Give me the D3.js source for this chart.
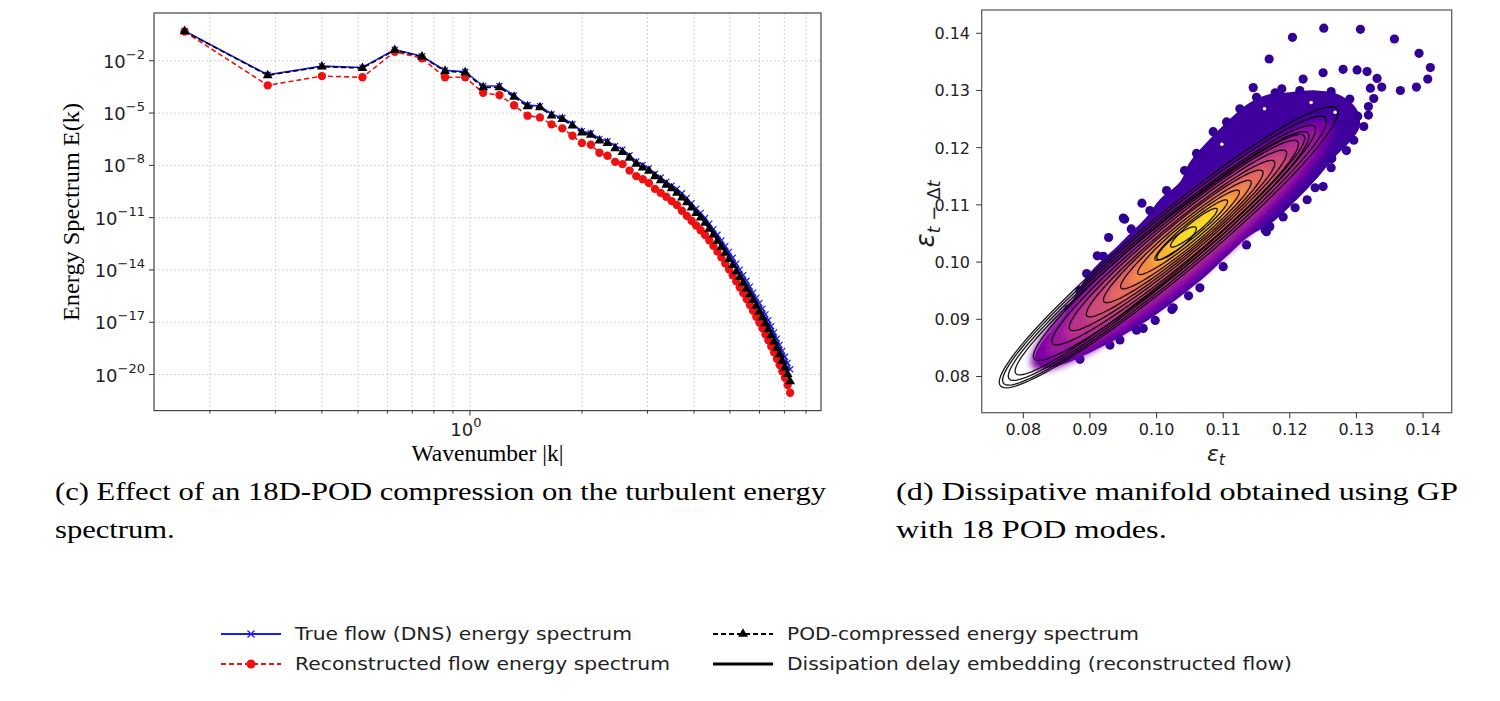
<!DOCTYPE html>
<html>
<head>
<meta charset="utf-8">
<script src="https://cdn.jsdelivr.net/npm/d3@7"></script>
<style>
  body { margin: 0; background: #fff; }
  svg { display: block; }
</style>
</head>
<body>
<svg id="fig" width="1500" height="701"></svg>
<script>
var svg = d3.select("#fig");

// ---------- (c) energy spectrum ----------
const waveK = [0.171, 0.286, 0.400, 0.514, 0.628, 0.743, 0.857, 0.971, 1.085, 1.200,
  1.314, 1.428, 1.542, 1.657, 1.771, 1.885, 1.999, 2.113, 2.228, 2.342,
  2.456, 2.570, 2.685, 2.799, 2.913, 3.027, 3.142, 3.256, 3.370, 3.484,
  3.599, 3.713, 3.827, 3.941, 4.055, 4.170, 4.284, 4.398, 4.512, 4.627,
  4.741, 4.855, 4.969, 5.084, 5.198, 5.312, 5.426, 5.540, 5.655, 5.769,
  5.883, 5.997, 6.112, 6.226, 6.340, 6.454, 6.568, 6.683, 6.797, 6.911,
  7.025, 7.140, 7.254];

// log10 E(k) for each series
const trueLogE = [-0.29, -2.80, -2.31, -2.39, -1.36, -1.74, -2.55, -2.63, -3.45, -3.45,
  -3.99, -4.54, -4.60, -5.07, -5.27, -5.63, -6.04, -6.15, -6.48, -6.62,
  -6.88, -7.10, -7.42, -7.77, -7.97, -8.17, -8.48, -8.70, -8.95, -9.16,
  -9.35, -9.60, -9.87, -10.17, -10.48, -10.73, -11.02, -11.34, -11.66, -11.98,
  -12.30, -12.63, -12.96, -13.30, -13.64, -13.98, -14.30, -14.62, -14.96, -15.30,
  -15.60, -15.90, -16.22, -16.55, -16.88, -17.22, -17.58, -17.94, -18.30, -18.64,
  -18.98, -19.33, -19.70];

const recLogE = [-0.33, -3.41, -2.88, -2.95, -1.48, -1.86, -2.95, -2.95, -3.84, -3.97,
  -4.55, -5.15, -5.25, -5.65, -5.88, -6.30, -6.72, -6.82, -7.28, -7.45,
  -7.80, -7.93, -8.30, -8.62, -8.80, -9.02, -9.35, -9.58, -9.80, -10.05,
  -10.28, -10.60, -10.90, -11.18, -11.45, -11.72, -12.00, -12.30, -12.62, -12.95,
  -13.28, -13.62, -13.96, -14.30, -14.65, -14.99, -15.33, -15.67, -16.01, -16.35,
  -16.69, -17.02, -17.35, -17.69, -18.03, -18.38, -18.73, -19.09, -19.45, -19.82,
  -20.19, -20.60, -21.05];

const podLogE = [-0.31, -2.84, -2.34, -2.42, -1.39, -1.77, -2.59, -2.67, -3.53, -3.53,
  -4.07, -4.62, -4.68, -5.15, -5.35, -5.72, -6.13, -6.25, -6.58, -6.73,
  -7.03, -7.25, -7.57, -7.92, -8.13, -8.32, -8.64, -8.86, -9.12, -9.33,
  -9.58, -9.85, -10.12, -10.43, -10.75, -11.00, -11.30, -11.64, -11.98, -12.33,
  -12.68, -13.03, -13.38, -13.73, -14.08, -14.42, -14.75, -15.08, -15.41, -15.74,
  -16.07, -16.40, -16.73, -17.07, -17.41, -17.76, -18.12, -18.48, -18.85, -19.22,
  -19.60, -19.98, -20.40];

const specTicksY = [1e-2, 1e-5, 1e-8, 1e-11, 1e-14, 1e-17, 1e-20];
const minorK = [0.2, 0.3, 0.4, 0.5, 0.6, 0.7, 0.8, 0.9, 2, 3, 4, 5, 6, 7, 8];

// ---------- (d) dissipation delay embedding ----------
const epsTicks = [0.08, 0.09, 0.10, 0.11, 0.12, 0.13, 0.14];

// outline of the dense cloud of points
const haloOutline = [[0.0818,0.0835],[0.0830,0.0862],[0.0855,0.0893],[0.0875,0.0935],[0.0895,0.0974],
  [0.0915,0.1000],[0.0935,0.1021],[0.0960,0.1050],[0.0985,0.1079],[0.1005,0.1110],[0.1035,0.1140],
  [0.1050,0.1175],[0.1080,0.1215],[0.1110,0.1250],[0.1135,0.1275],[0.1165,0.1292],[0.1200,0.1297],
  [0.1240,0.1300],[0.1275,0.1292],[0.1300,0.1268],[0.1305,0.1238],[0.1290,0.1210],[0.1266,0.1182],
  [0.1245,0.1152],[0.1218,0.1118],[0.1192,0.1088],[0.1170,0.1066],[0.1140,0.1046],[0.1107,0.1012],
  [0.1076,0.0978],[0.1038,0.0942],[0.0998,0.0907],[0.0950,0.0872],[0.0902,0.0843],[0.0858,0.0821],
  [0.0828,0.0816]];

// individual scatter points (outliers and the bumpy rim)
const scatterDots = [[0.1251,0.1409],[0.1306,0.1407],[0.1204,0.1393],[0.1357,0.1390],[0.1169,0.1355],
  [0.1394,0.1365],[0.1411,0.1340],[0.1407,0.1320],[0.1390,0.1306],[0.1366,0.1300],[0.1145,0.1305],
  [0.1188,0.1303],[0.1220,0.1320],[0.1250,0.1331],[0.1280,0.1337],[0.1301,0.1336],[0.1316,0.1333],
  [0.1331,0.1321],[0.1338,0.1306],[0.1321,0.1304],[0.1326,0.1286],[0.1318,0.1272],[0.1318,0.1257],
  [0.1311,0.1237],[0.1296,0.1213],[0.1263,0.1181],[0.1250,0.1132],[0.1226,0.1109],[0.1190,0.1079],
  [0.1163,0.1056],[0.1165,0.1053],[0.1048,0.0941],[0.1023,0.0917],[0.0998,0.0898],[0.0970,0.0881],
  [0.0945,0.0864],[0.0978,0.1103],[0.0952,0.1075],[0.0928,0.1043],[0.0911,0.1011],[0.0895,0.0980],
  [0.0950,0.1077],[0.0868,0.0918],[0.0885,0.0950],[0.0920,0.1010],[0.0962,0.1058],[0.0990,0.1090],
  [0.1015,0.1125],[0.1042,0.1160],[0.1060,0.1190],[0.1085,0.1228],[0.1105,0.1245],[0.1125,0.1268],
  [0.1150,0.1288],[0.1178,0.1296],[0.1215,0.1300],[0.1262,0.1298],[0.1290,0.1285],[0.1302,0.1255],
  [0.1285,0.1195],[0.1262,0.1165],[0.1238,0.1130],[0.1208,0.1095],[0.1170,0.1062],[0.1135,0.1030],
  [0.1100,0.0992],[0.1065,0.0955],[0.1025,0.0920],[0.0980,0.0884],[0.0930,0.0855],[0.0885,0.0830]];

// small white gaps inside the dense cloud
const cloudGaps = [[0.1162,0.1268],[0.1232,0.1279],[0.1098,0.1206],[0.1268,0.1262]];

// density colouring: [plasma level, centre x, centre y, half length, half width]
const densityLevels = [
  [0.26, 0.1038, 0.1030, 0.0310, 0.0058],
  [0.34, 0.1040, 0.1034, 0.0280, 0.0050],
  [0.43, 0.1042, 0.1038, 0.0245, 0.0042],
  [0.52, 0.1045, 0.1042, 0.0205, 0.0035],
  [0.62, 0.1048, 0.1046, 0.0165, 0.0028],
  [0.72, 0.1051, 0.1050, 0.0125, 0.0022],
  [0.83, 0.1054, 0.1054, 0.0085, 0.0016],
  [0.94, 0.1056, 0.1057, 0.0050, 0.0011]];

// KDE contour rings: [centre x, centre y, half length, half width]
const contourRings = [
  [0.1018, 0.1026, 0.0350, 0.0050],
  [0.1012, 0.1020, 0.0335, 0.0046],
  [0.1008, 0.1016, 0.0318, 0.0042],
  [0.1005, 0.1013, 0.0300, 0.0038],
  [0.1022, 0.1028, 0.0285, 0.0040],
  [0.1028, 0.1034, 0.0255, 0.0035],
  [0.1032, 0.1038, 0.0225, 0.0031],
  [0.1036, 0.1041, 0.0195, 0.0027],
  [0.1040, 0.1045, 0.0165, 0.0024],
  [0.1044, 0.1048, 0.0135, 0.0020],
  [0.1048, 0.1052, 0.0105, 0.0016],
  [0.1052, 0.1056, 0.0075, 0.0012],
  [0.1056, 0.1060, 0.0048, 0.0009],
  [0.1030, 0.1033, 0.0040, 0.0010]];

const ringAngle = 44;

// =====================================================================
// panel (c)
// =====================================================================
var x = d3.scaleLog().domain([0.1415, 8.78]).range([154, 821]);
var y = d3.scaleLog().domain([Math.pow(10, -22.07), Math.pow(10, 0.74)]).range([410.6, 13]);

var left = svg.append("g");

// grid
left.selectAll(".vgrid")
    .data(minorK.concat([1]))
    .enter().append("line")
    .attr("x1", d => x(d)).attr("x2", d => x(d))
    .attr("y1", 13).attr("y2", 410.6)
    .attr("stroke", "#c9c9c9").attr("stroke-width", 0.8).attr("stroke-dasharray", "2,2");

left.selectAll(".hgrid")
    .data(specTicksY)
    .enter().append("line")
    .attr("x1", 154).attr("x2", 821)
    .attr("y1", d => y(d)).attr("y2", d => y(d))
    .attr("stroke", "#c9c9c9").attr("stroke-width", 0.8).attr("stroke-dasharray", "2,2");

// y ticks
left.selectAll(".ytick")
    .data(specTicksY)
    .enter().append("line")
    .attr("x1", 149).attr("x2", 154)
    .attr("y1", d => y(d)).attr("y2", d => y(d))
    .attr("stroke", "#333").attr("stroke-width", 1);

var yLab = left.selectAll(".ylab")
    .data(specTicksY)
    .enter().append("text")
    .attr("x", 145)
    .attr("y", d => y(d) + 7)
    .attr("text-anchor", "end")
    .attr("font-family", "DejaVu Sans")
    .attr("font-size", "18px")
    .attr("fill", "#222");
yLab.append("tspan").text("10");
yLab.append("tspan").attr("dy", -9).attr("font-size", "13px")
    .text(d => "\u2212" + Math.abs(Math.round(Math.log10(d))));

// x ticks
left.selectAll(".xminor")
    .data(minorK)
    .enter().append("line")
    .attr("x1", d => x(d)).attr("x2", d => x(d))
    .attr("y1", 410.6).attr("y2", 413.6)
    .attr("stroke", "#333");
left.append("line")
    .attr("x1", x(1)).attr("x2", x(1))
    .attr("y1", 410.6).attr("y2", 415.6)
    .attr("stroke", "#333");
var xLab = left.append("text")
    .attr("x", x(1) - 4).attr("y", 436)
    .attr("text-anchor", "middle")
    .attr("font-family", "DejaVu Sans")
    .attr("font-size", "18px")
    .attr("fill", "#222");
xLab.append("tspan").text("10");
xLab.append("tspan").attr("dy", -9).attr("font-size", "13px").text("0");

// frame
left.append("rect")
    .attr("x", 154).attr("y", 13)
    .attr("width", 667).attr("height", 397.6)
    .attr("fill", "none").attr("stroke", "#444").attr("stroke-width", 1.2);

// axis titles
left.append("text")
    .attr("transform", "translate(79,212) rotate(-90)")
    .attr("text-anchor", "middle")
    .attr("font-family", "Liberation Serif")
    .attr("font-size", "23px")
    .attr("textLength", 218).attr("lengthAdjust", "spacingAndGlyphs")
    .text("Energy Spectrum E(k)");

left.append("text")
    .attr("x", 487.5).attr("y", 461)
    .attr("text-anchor", "middle")
    .attr("font-family", "Liberation Serif")
    .attr("font-size", "23px")
    .attr("textLength", 152).attr("lengthAdjust", "spacingAndGlyphs")
    .text("Wavenumber |k|");

// series
function series(logs) {
  return waveK.map((k, i) => ({ k: k, e: Math.pow(10, logs[i]) }));
}
var trueData = series(trueLogE);
var recData = series(recLogE);
var podData = series(podLogE);

var line = d3.line()
    .x(d => x(d.k))
    .y(d => y(d.e));

left.append("path").datum(trueData)
    .attr("d", line).attr("fill", "none")
    .attr("stroke", "#1a1aff").attr("stroke-width", 1.6);
left.selectAll(".tmark").data(trueData).enter().append("path")
    .attr("transform", d => "translate(" + x(d.k) + "," + y(d.e) + ")")
    .attr("d", "M-3,-3L3,3M-3,3L3,-3")
    .attr("stroke", "#1a1aff").attr("stroke-width", 1.2);

left.append("path").datum(recData)
    .attr("d", line).attr("fill", "none")
    .attr("stroke", "#ee1111").attr("stroke-width", 1.6).attr("stroke-dasharray", "5,3");
left.selectAll(".rmark").data(recData).enter().append("circle")
    .attr("cx", d => x(d.k)).attr("cy", d => y(d.e)).attr("r", 4.2)
    .attr("fill", "#ee1111");

left.append("path").datum(podData)
    .attr("d", line).attr("fill", "none")
    .attr("stroke", "#000").attr("stroke-width", 1.6).attr("stroke-dasharray", "5,3");
var tri = d3.symbol().type(d3.symbolTriangle).size(42);
left.selectAll(".pmark").data(podData).enter().append("path")
    .attr("transform", d => "translate(" + x(d.k) + "," + y(d.e) + ")")
    .attr("d", tri).attr("fill", "#000");

// =====================================================================
// panel (d)
// =====================================================================
var xr = d3.scaleLinear().domain([0.07375, 0.1443]).range([981.7, 1451.7]);
var yr = d3.scaleLinear().domain([0.07367, 0.14407]).range([412.7, 10]);

var defs = svg.append("defs");
defs.append("clipPath").attr("id", "clipD")
  .append("rect").attr("x", 981.7).attr("y", 10).attr("width", 470).attr("height", 402.7);
defs.append("filter").attr("id", "soft")
  .append("feGaussianBlur").attr("stdDeviation", 3.5);
defs.append("filter").attr("id", "soft1")
  .append("feGaussianBlur").attr("stdDeviation", 0.6);

var right = svg.append("g");
var plot = right.append("g").attr("clip-path", "url(#clipD)");

function ringPoints(cx, cy, a, b) {
  var th = ringAngle * Math.PI / 180, pts = [];
  for (var i = 0; i < 120; i++) {
    var t = i / 120 * 2 * Math.PI;
    pts.push([cx + a * Math.cos(t) * Math.cos(th) - b * Math.sin(t) * Math.sin(th),
              cy + a * Math.cos(t) * Math.sin(th) + b * Math.sin(t) * Math.cos(th)]);
  }
  return pts;
}
var ringLine = d3.line().x(d => xr(d[0])).y(d => yr(d[1])).curve(d3.curveLinearClosed);

// dense cloud
plot.append("path").datum(haloOutline)
    .attr("d", d3.line().x(d => xr(d[0])).y(d => yr(d[1])).curve(d3.curveCatmullRomClosed))
    .attr("fill", d3.interpolatePlasma(0.1))
    .attr("filter", "url(#soft1)");

plot.selectAll(".gap").data(cloudGaps).enter().append("circle")
    .attr("cx", d => xr(d[0])).attr("cy", d => yr(d[1])).attr("r", 1.8)
    .attr("fill", "#fff").attr("filter", "url(#soft1)");

plot.selectAll(".dot").data(scatterDots).enter().append("circle")
    .attr("cx", d => xr(d[0])).attr("cy", d => yr(d[1])).attr("r", 4.6)
    .attr("fill", d3.interpolatePlasma(0.07))
    .attr("filter", "url(#soft1)");

// density colouring
var dens = plot.append("g").attr("filter", "url(#soft)");
dens.selectAll("path").data(densityLevels).enter().append("path")
    .attr("d", d => ringLine(ringPoints(d[1], d[2], d[3], d[4])))
    .attr("fill", d => d3.interpolatePlasma(d[0]));

// contours
plot.selectAll(".ring").data(contourRings).enter().append("path")
    .attr("d", d => ringLine(ringPoints(d[0], d[1], d[2], d[3])))
    .attr("fill", "none")
    .attr("stroke", "#000").attr("stroke-width", 1.3).attr("stroke-opacity", 0.9);

// axes
right.append("rect")
    .attr("x", 981.7).attr("y", 10).attr("width", 470).attr("height", 402.7)
    .attr("fill", "none").attr("stroke", "#555").attr("stroke-width", 1.2);

right.selectAll(".xt").data(epsTicks).enter().append("line")
    .attr("x1", d => xr(d)).attr("x2", d => xr(d))
    .attr("y1", 412.7).attr("y2", 418.2)
    .attr("stroke", "#333");
right.selectAll(".xtl").data(epsTicks).enter().append("text")
    .attr("x", d => xr(d)).attr("y", 435)
    .attr("text-anchor", "middle")
    .attr("font-family", "DejaVu Sans").attr("font-size", "16px").attr("fill", "#222")
    .text(d => d3.format(".2f")(d));

right.selectAll(".yt").data(epsTicks).enter().append("line")
    .attr("x1", 976.2).attr("x2", 981.7)
    .attr("y1", d => yr(d)).attr("y2", d => yr(d))
    .attr("stroke", "#333");
right.selectAll(".ytl").data(epsTicks).enter().append("text")
    .attr("x", 970).attr("y", d => yr(d) + 6)
    .attr("text-anchor", "end")
    .attr("font-family", "DejaVu Sans").attr("font-size", "16px").attr("fill", "#222")
    .text(d => d3.format(".2f")(d));

var epsX = right.append("text")
    .attr("x", 1216).attr("y", 461)
    .attr("text-anchor", "middle")
    .attr("font-family", "DejaVu Sans").attr("font-size", "22px").attr("fill", "#222");
epsX.append("tspan").attr("font-style", "italic").text("\u03b5");
epsX.append("tspan").attr("dy", 4).attr("font-size", "16px").attr("font-style", "italic").text("t");

var epsY = right.append("text")
    .attr("transform", "translate(934,214) rotate(-90)")
    .attr("text-anchor", "middle")
    .attr("font-family", "DejaVu Sans").attr("font-size", "26px").attr("fill", "#222");
epsY.append("tspan").attr("font-style", "italic").text("\u03b5");
epsY.append("tspan").attr("dy", 6).attr("font-size", "18px").attr("font-style", "italic").text("t");
epsY.append("tspan").attr("font-size", "18px").text(" \u2212 \u0394");
epsY.append("tspan").attr("font-size", "18px").attr("font-style", "italic").text("t");

// =====================================================================
// captions (first line fills the column width, like the typeset page)
// =====================================================================
function caption(lines, xPos, width) {
  var nodes = lines.map(function(txt, i) {
    return svg.append("text")
        .attr("x", xPos).attr("y", 500 + i * 38)
        .attr("font-family", "Liberation Serif").attr("font-size", "25px").attr("fill", "#000")
        .text(txt);
  });
  var ratio = width / nodes[0].node().getComputedTextLength();
  nodes.forEach(function(t) {
    var w = t.node().getComputedTextLength();
    t.attr("textLength", w * ratio).attr("lengthAdjust", "spacingAndGlyphs");
  });
}
caption(["(c) Effect of an 18D-POD compression on the turbulent energy", "spectrum."], 55, 771);
caption(["(d) Dissipative manifold obtained using GP", "with 18 POD modes."], 896, 562);

// =====================================================================
// legend
// =====================================================================
var legend = svg.append("g");
var legendRows = [
  { x: 221, y: 634, label: "True flow (DNS) energy spectrum", len: 337, kind: "true" },
  { x: 221, y: 664, label: "Reconstructed flow energy spectrum", len: 375, kind: "rec" },
  { x: 713, y: 634, label: "POD-compressed energy spectrum", len: 352, kind: "pod" },
  { x: 713, y: 664, label: "Dissipation delay embedding (reconstructed flow)", len: 505, kind: "emb" }];

legendRows.forEach(function(r) {
  var g = legend.append("g");
  var ln = g.append("line")
      .attr("x1", r.x).attr("x2", r.x + 60).attr("y1", r.y).attr("y2", r.y);
  if (r.kind === "true") {
    ln.attr("stroke", "#1a1aff").attr("stroke-width", 1.8);
    g.append("path").attr("transform", "translate(" + (r.x + 30) + "," + r.y + ")")
      .attr("d", "M-3.5,-3.5L3.5,3.5M-3.5,3.5L3.5,-3.5").attr("stroke", "#1a1aff").attr("stroke-width", 1.3);
  } else if (r.kind === "rec") {
    ln.attr("stroke", "#ee1111").attr("stroke-width", 1.8).attr("stroke-dasharray", "5,3");
    g.append("circle").attr("cx", r.x + 30).attr("cy", r.y).attr("r", 4.5).attr("fill", "#ee1111");
  } else if (r.kind === "pod") {
    ln.attr("stroke", "#000").attr("stroke-width", 1.8).attr("stroke-dasharray", "5,3");
    g.append("path").attr("transform", "translate(" + (r.x + 30) + "," + r.y + ")")
      .attr("d", tri).attr("fill", "#000");
  } else {
    ln.attr("stroke", "#000").attr("stroke-width", 2.8);
  }
  g.append("text")
      .attr("x", r.x + 74).attr("y", r.y + 6)
      .attr("font-family", "DejaVu Sans").attr("font-size", "17px").attr("fill", "#222")
      .attr("textLength", r.len).attr("lengthAdjust", "spacingAndGlyphs")
      .text(r.label);
});
</script>
</body>
</html>
